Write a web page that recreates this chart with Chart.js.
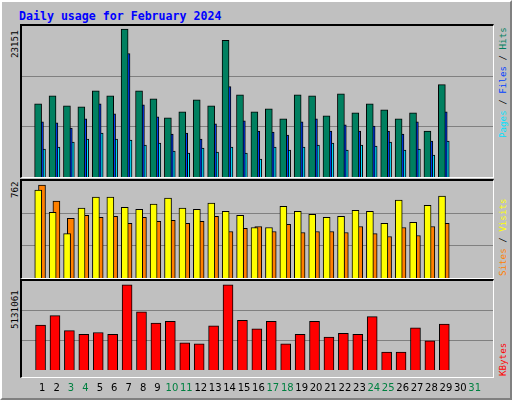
<!DOCTYPE html>
<html lang="en">
<head>
<meta charset="UTF-8">
<title>Daily usage for February 2024</title>
<script src="https://cdn.jsdelivr.net/npm/chart.js"></script>
<style>
  body { margin:0; }
  #frame { position:relative; width:508px; height:396px; background:#c0c0c0;
           border-top:2px solid #fff; border-left:2px solid #fff;
           border-right:2px solid #808080; border-bottom:2px solid #808080; outline:1px solid #000; }
  .panel { position:absolute; left:18px; width:471px; border-top:2px solid #000; border-left:2px solid #000;
           border-right:1px solid #fff; border-bottom:1px solid #fff; }
  canvas { position:absolute; }
  .rot { position:absolute; transform-origin:0 0; transform:rotate(-90deg); white-space:nowrap;
         font-family:"DejaVu Sans Mono", monospace; font-size:9.2px; line-height:11px; }
  #title { position:absolute; left:17px; top:7px; font-family:"DejaVu Sans Mono", monospace;
           font-weight:bold; font-size:11.6px; color:#0000ff; }
</style>
</head>
<body>
<div id="frame">
  <div id="title">Daily usage for February 2024</div>
  <div class="panel" style="top:22px;height:151px;"></div>
  <div class="panel" style="top:177px;height:97px;"></div>
  <div class="panel" style="top:277px;height:96px;"></div>
  <canvas id="c1"></canvas>
  <canvas id="c2"></canvas>
  <canvas id="c3"></canvas>
  <div class="rot" style="left:7px;top:56px;">23151</div>
  <div class="rot" style="left:7px;top:196px;">762</div>
  <div class="rot" style="left:7px;top:327px;">5131061</div>
  <div class="rot" style="left:495px;top:136px;"><span style="color:#00e0ff">Pages</span> / <span style="color:#0040ff">Files</span> / <span style="color:#008060">Hits</span></div>
  <div class="rot" style="left:495px;top:274px;"><span style="color:#ff8000">Sites</span> / <span style="color:#ffff00">Visits</span></div>
  <div class="rot" style="left:495px;top:374px;"><span style="color:#ff0000">KBytes</span></div>
</div>
<script>
const days = [1,2,3,4,5,6,7,8,9,10,11,12,13,14,15,16,17,18,19,20,21,22,23,24,25,26,27,28,29,30,31];
const weekend = [3,4,10,11,17,18,24,25,31];

const hits  = [11450,12710,11135,10978,13498,12710,23151,13498,12238,9245,10190,12080,11135,21373,12868,10190,10663,9088,12868,12710,9560,13025,10033,11450,10505,9088,10033,7198,14443];
const files = [8615,8458,7670,9088,11450,9875,19325,11293,9403,6725,6883,5938,8300,14128,8773,7198,7040,6568,8615,9088,7198,8143,7198,7985,7198,6725,8615,5623,10190];
const pages = [4363,4678,5465,5938,6883,5938,5780,4993,5308,4048,3733,4520,3890,4678,3733,2788,4678,4205,4678,4993,5308,4205,4993,4835,5465,4205,4363,3418,5623];

const visits = [721,538,364,572,663,663,580,563,605,654,572,563,613,547,514,414,414,588,547,522,497,505,555,547,447,638,456,596,671];
const sites  = [762,630,489,514,497,505,447,497,464,472,447,464,505,381,406,422,381,439,373,381,381,373,422,364,340,414,348,422,447];

const kbytes = [2706480,3270330,2368170,2142630,2255400,2142630,5131061,3495870,2819250,2932020,1635165,1578780,2650095,5131061,2988405,2480940,2932020,1578780,2142630,2932020,1973475,2199015,2142630,3213945,1071315,1071315,2537325,1747935,2762865];

const maxTop = 23151, maxMid = 762, maxBot = 5131061;

const pts = (arr, off) => arr.map((v, i) => ({ x: days[i] + off, y: v }));
const ds = (arr, off, color, w) => ({ data: pts(arr, off), backgroundColor: color, borderColor: '#000',
  borderWidth: 1, barThickness: w, borderSkipped: 'bottom', grouped: false });

function makeChart(id, left, top, w, h, datasets, ymax, showX) {
  const cv = document.getElementById(id);
  cv.style.left = left + 'px'; cv.style.top = top + 'px';
  cv.width = w; cv.height = h;
  cv.style.width = w + 'px'; cv.style.height = h + 'px';
  return new Chart(cv, {
    type: 'bar',
    data: { datasets: datasets },
    options: {
      responsive: false, animation: false, devicePixelRatio: 1,
      layout: { padding: 0 },
      plugins: { legend: { display: false }, tooltip: { enabled: false } },
      scales: {
        x: { type: 'linear', min: 0.13, max: 31.74, display: showX,
             grid: { display: false }, border: { display: false },
             afterBuildTicks: s => { s.ticks = days.map(d => ({ value: d })); },
             ticks: { color: c => weekend.includes(c.tick.value) ? '#008040' : '#000',
                      font: { family: 'DejaVu Sans', size: 10 }, padding: 4, maxRotation: 0, autoSkip: false } },
        y: { min: 0, max: ymax,
             afterBuildTicks: s => { s.ticks = [{ value: ymax / 3 }, { value: ymax * 2 / 3 }]; },
             afterFit: s => { s.width = 0; },
             ticks: { display: false }, border: { display: false },
             grid: { color: '#808080', lineWidth: 1, drawTicks: false } }
      }
    }
  });
}

makeChart('c1', 20, 24, 471, 151, [
  ds(hits, -0.28, '#008060', 7), ds(files, -0.15, '#0040ff', 7), ds(pages, -0.01, '#00e0ff', 7)
], maxTop * 150 / 147, false);

makeChart('c2', 20, 179, 471, 97, [
  ds(visits, -0.27, '#ffff00', 7), ds(sites, -0.01, '#ff8000', 7)
], maxMid * 97 / 93, false);

makeChart('c3', 20, 279, 471, 117, [
  ds(kbytes, -0.11, '#ff0000', 10)
], maxBot * 96 / 92, true);
</script>
</body>
</html>
